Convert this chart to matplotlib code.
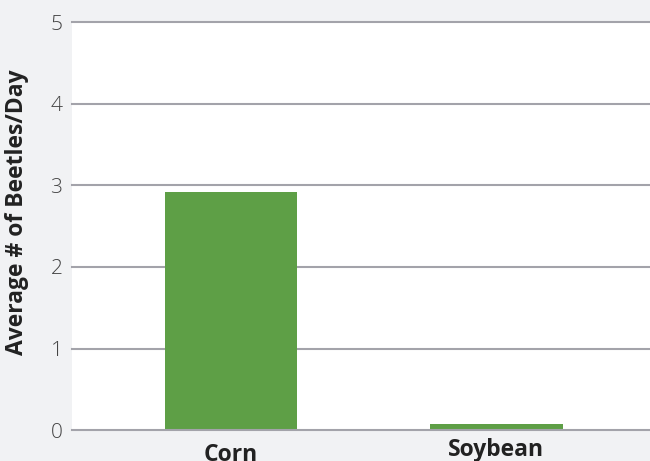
import matplotlib.pyplot as plt

# data
crops = ['Corn', 'Soybean']
beetles_per_day = [2.92, 0.08]
y_ticks = [0, 1, 2, 3, 4, 5]

bg = '#f1f2f4'
green = '#5e9f46'
grid_col = '#a3a3aa'

plt.rcParams['font.family'] = ['Open Sans', 'DejaVu Sans']

fig = plt.figure(figsize=(6.5, 4.61), dpi=100, facecolor=bg)
ax = fig.add_axes([0.111, 0.067, 0.889, 0.885])
ax.set_facecolor('white')

x = list(range(len(crops)))
ax.bar(x, beetles_per_day, width=0.5, color=green, zorder=3)

ax.set_xlim(-0.6, 1.58)
ax.set_ylim(0, 5)
ax.set_yticks(y_ticks)
ax.set_yticklabels([str(t) for t in y_ticks], fontsize=15, color='#444444',
                   fontweight='light')
ax.set_xticks(x)
xlabels = ax.set_xticklabels(crops, fontsize=16.5, fontweight='bold', color='#222222')
xlabels[0].set_y(-0.012)  # "Corn" sits a bit lower in the original

for t in y_ticks:
    ax.axhline(t, color=grid_col, lw=1.5, zorder=2 if t > 0 else 4, clip_on=False)

for s in ax.spines.values():
    s.set_visible(False)
ax.tick_params(axis='both', length=0)
ax.tick_params(axis='y', pad=7)
ax.tick_params(axis='x', pad=6)

ax.set_ylabel('Average # of Beetles/Day', fontsize=16.5, fontweight='bold',
              color='#222222', labelpad=9)
ax.yaxis.set_label_coords(-0.075, 0.535)

fig.savefig('out.png', dpi=100, facecolor=bg)
